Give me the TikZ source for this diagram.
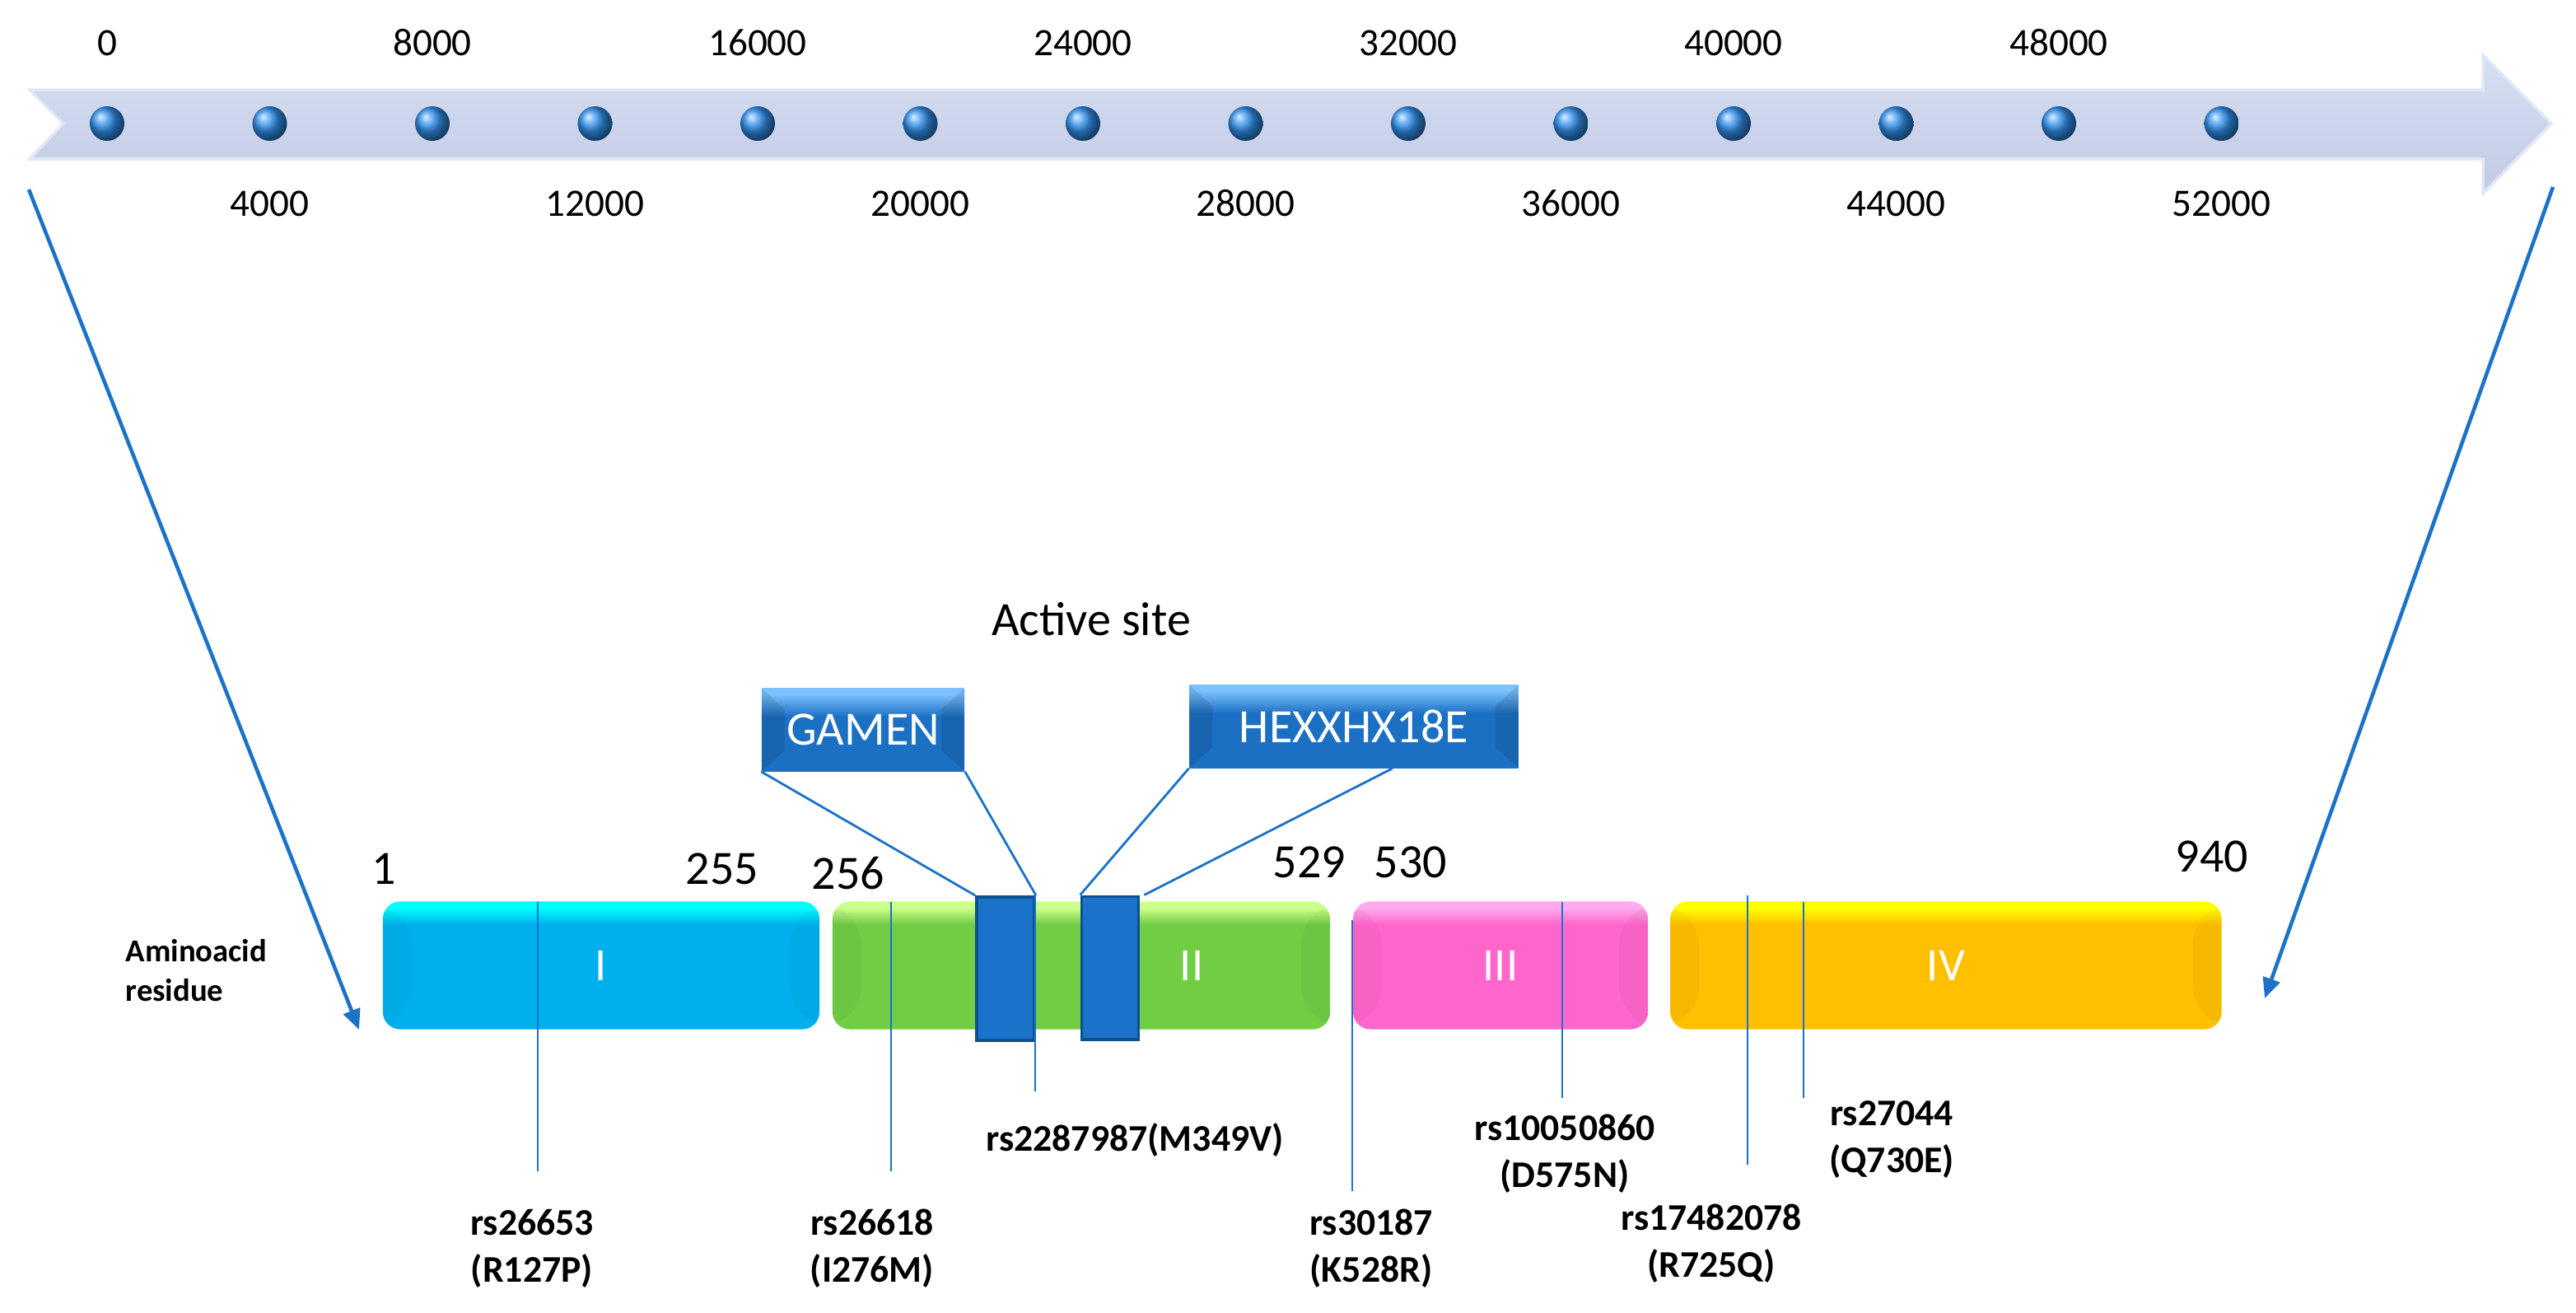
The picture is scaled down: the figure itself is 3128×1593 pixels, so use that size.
\documentclass[tikz,border=0pt]{standalone}
\usepackage{fontspec}
\setmainfont{Carlito}
\usetikzlibrary{arrows.meta}

\definecolor{axisTop}{RGB}{214,223,242}
\definecolor{axisBot}{RGB}{194,202,228}
\definecolor{axisEdge}{RGB}{224,232,247}
\definecolor{dotBlue}{RGB}{50,145,240}
\definecolor{linkBlue}{RGB}{27,114,200}
\definecolor{siteBlue}{RGB}{26,115,200}
\definecolor{siteEdge}{RGB}{12,80,146}
\definecolor{btnTop}{RGB}{124,194,255}
\definecolor{btnBase}{RGB}{28,112,196}
\definecolor{cyanTop}{RGB}{0,255,255}
\definecolor{cyanBase}{RGB}{0,176,236}
\definecolor{greenTop}{RGB}{204,255,140}
\definecolor{greenBase}{RGB}{112,205,68}
\definecolor{pinkTop}{RGB}{255,170,238}
\definecolor{pinkBase}{RGB}{255,102,204}
\definecolor{goldTop}{RGB}{255,255,0}
\definecolor{goldBase}{RGB}{255,192,0}

\colorlet{bevhi}{white}
\colorlet{bevlo}{black}
\pgfdeclareverticalshading[bevhi,bevlo]{bevel}{100bp}{color(0bp)=(bevlo); color(66bp)=(bevlo); color(72.5bp)=(bevhi); color(100bp)=(bevhi)}
\pgfdeclareverticalshading[bevhi,bevlo]{bevelbtn}{100bp}{color(0bp)=(bevlo); color(58bp)=(bevlo); color(72bp)=(bevhi); color(100bp)=(bevhi)}

\tikzset{
  facets/.style n args={3}{path picture={
    \fill[black,opacity=#3] (path picture bounding box.north west) -- ([xshift=#1,yshift=-#2]path picture bounding box.north west)
      -- ([xshift=#1,yshift=#2]path picture bounding box.south west) -- (path picture bounding box.south west) -- cycle;
    \fill[black,opacity=#3] (path picture bounding box.north east) -- ([xshift=-#1,yshift=-#2]path picture bounding box.north east)
      -- ([xshift=-#1,yshift=#2]path picture bounding box.south east) -- (path picture bounding box.south east) -- cycle;}},
  domain/.style 2 args={/utils/exec={\colorlet{bevhi}{#1}\colorlet{bevlo}{#2}}, shading=bevel,
    rounded corners=6pt, minimum height=1.55cm, inner sep=0pt, facets={0.35cm}{0.3cm}{0.03}},
  roman/.style={text=white, font=\fontsize{16}{19}\selectfont, inner sep=0pt},
  button/.style={/utils/exec={\colorlet{bevhi}{btnTop}\colorlet{bevlo}{btnBase}}, shading=bevelbtn, text=white,
    font=\fontsize{16.5}{20}\selectfont, inner sep=0pt, minimum height=1cm, facets={0.28cm}{0.25cm}{0.1}},
  site/.style={fill=siteBlue, draw=siteEdge, line width=1.1pt, inner sep=0pt},
  dot/.style={circle, inner sep=0pt, minimum size=0.42cm, ball color=dotBlue},
  ticklab/.style={font=\fontsize{13.4}{16}\selectfont, inner sep=0pt},
  poslab/.style={font=\fontsize{16.5}{20}\selectfont, inner sep=0pt},
  snplab/.style={font=\fontsize{13}{16.2}\selectfont\bfseries, align=center, inner sep=0pt},
  snp/.style={draw=linkBlue, line width=0.6pt},
  link/.style={draw=linkBlue, line width=0.8pt},
  bigarrow/.style={draw=linkBlue, line width=1.3pt, -{Triangle[length=7pt,width=6pt]}}
}

\begin{document}
\begin{tikzpicture}[x=0.01cm, y=-0.01cm]
    \useasboundingbox (0,0) rectangle (3128,1593);

    % gene axis
    \shade[top color=axisTop, bottom color=axisBot, draw=axisEdge, line width=1pt]
      (36,109) -- (3015,109) -- (3015,67) -- (3098,150) -- (3015,235) -- (3015,193) -- (36,193) -- (77,150) -- cycle;
    \foreach \i in {0,...,13}{
      \pgfmathsetmacro{\px}{130+197.5*\i}
      \node[dot] (d\i) at (\px,150) {};
      \ifodd\i
        \node[ticklab] (l\i) at (\px,247) {\the\numexpr4000*\i\relax};
      \else
        \node[ticklab] (l\i) at (\px,52) {\the\numexpr4000*\i\relax};
      \fi
    }

    \coordinate (axisL) at (35,230);
    \coordinate (protL) at (436,1250);
    \coordinate (axisR) at (3100,227);
    \coordinate (protR) at (2750,1212);
    \draw[bigarrow] (axisL) -- (protL);
    \draw[bigarrow] (axisR) -- (protR);

    % domains
    \node[domain={cyanTop}{cyanBase}, minimum width=5.30cm] (dI) at (730,1172) {};
    \node[domain={greenTop}{greenBase}, minimum width=6.04cm] (dII) at (1313,1172) {};
    \node[domain={pinkTop}{pinkBase}, minimum width=3.58cm] (dIII) at (1822,1172) {};
    \node[domain={goldTop}{goldBase}, minimum width=6.69cm] (dIV) at (2363,1172) {};
    \node[roman] (rI) at (dI) {I};
    \node[roman] (rII) at (1447,1172) {II};
    \node[roman] (rIII) at (dIII) {III};
    \node[roman] (rIV) at (dIV) {IV};

    % active site
    \node[site, minimum width=0.70cm, minimum height=1.74cm] (bar1) at (1221,1176) {};
    \node[site, minimum width=0.69cm, minimum height=1.73cm] (bar2) at (1348,1175) {};
    \node[button, minimum width=2.46cm] (gamen) at (1048,886) {GAMEN};
    \node[button, minimum width=3.99cm] (hexx) at (1644,882) {HEXXHX18E};
    \draw[link] (gamen.south west) -- (bar1.north west);
    \draw[link] (gamen.south east) -- (bar1.north east);
    \draw[link] (hexx.south west) -- (bar2.north west);
    \draw[link] ([xshift=0.47cm]hexx.south) -- ([xshift=0.05cm]bar2.north east);
    \node[poslab] (act) at (1325,752) {Active site};

    % SNPs
    \foreach \n/\x/\yt/\yb/\lx/\ly/\txt in {
        a/653/1095/1422/646/1516/{rs26653\\(R127P)},
        b/1082/1095/1422/1059/1516/{rs26618\\(I276M)},
        c/1257/1087/1325/1378/1384/{rs2287987(M349V)},
        d/1642/1117/1446/1665/1516/{rs30187\\(K528R)},
        e/1897/1095/1333/1900/1401/{rs10050860\\(D575N)},
        f/2122/1087/1414/2078/1510/{rs17482078\\(R725Q)},
        g/2190/1095/1333/2297/1383/{rs27044\\(Q730E)}}{
      \coordinate (top\n) at (\x,\yt);
      \coordinate (end\n) at (\x,\yb);
      \draw[snp] (top\n) -- (end\n);
      \node[snplab] (lab\n) at (\lx,\ly) {\txt};
    }

    % residue numbers
    \node[poslab] (p1) at (466,1055) {1};
    \node[poslab] (p255) at (877,1055) {255};
    \node[poslab] (p256) at (1030,1060) {256};
    \node[poslab] (p529) at (1590,1047) {529};
    \node[poslab] (p530) at (1713,1047) {530};
    \node[poslab] (p940) at (2686,1040) {940};

    \node[font=\fontsize{11}{13.4}\selectfont\bfseries, align=left, inner sep=0pt, anchor=west] (resid) at (152,1178) {Aminoacid\\residue};
\end{tikzpicture}
\end{document}
